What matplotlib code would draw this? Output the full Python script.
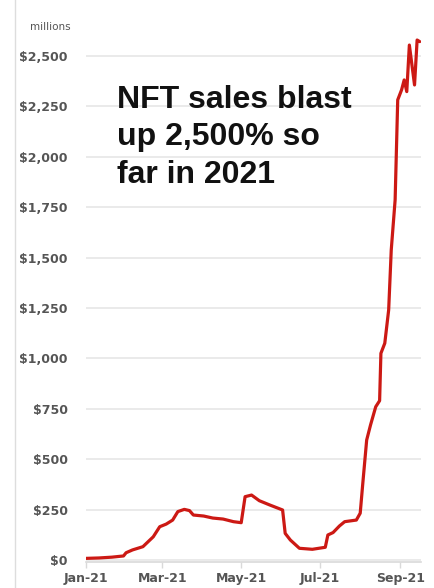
import matplotlib
matplotlib.use("Agg")
import matplotlib.pyplot as plt
import pandas as pd
from matplotlib.lines import Line2D

# ---- data ($ millions) ----
dates = ["2021-01-01", "2021-01-11", "2021-01-21", "2021-01-30", "2021-02-01",
         "2021-02-06", "2021-02-14", "2021-02-22", "2021-02-27", "2021-03-04",
         "2021-03-09", "2021-03-13", "2021-03-18", "2021-03-22", "2021-03-25",
         "2021-04-02", "2021-04-09", "2021-04-17", "2021-04-25", "2021-05-01",
         "2021-05-04", "2021-05-09", "2021-05-15", "2021-05-23", "2021-06-02",
         "2021-06-04", "2021-06-08", "2021-06-15", "2021-06-25", "2021-07-05",
         "2021-07-07", "2021-07-11", "2021-07-16", "2021-07-20", "2021-07-29",
         "2021-08-01", "2021-08-03", "2021-08-06", "2021-08-09", "2021-08-13",
         "2021-08-16", "2021-08-17", "2021-08-20", "2021-08-23", "2021-08-25",
         "2021-08-28", "2021-08-30", "2021-09-02", "2021-09-04", "2021-09-06",
         "2021-09-08", "2021-09-12", "2021-09-14", "2021-09-16"]
sales = [8, 10, 14, 20, 36,
         50, 66, 115, 165, 178,
         198, 240, 251, 245, 223,
         218, 208, 203, 190, 185,
         314, 322, 294, 273, 248,
         132, 99, 58, 53, 63,
         124, 136, 169, 190, 198,
         232, 380, 595, 670, 760,
         790, 1025, 1075, 1240, 1538,
         1786, 2282, 2332, 2381, 2323,
         2554, 2356, 2579, 2571]

y_ticks = [0, 250, 500, 750, 1000, 1250, 1500, 1750, 2000, 2250, 2500]
y_tick_labels = ["$0", "$250", "$500", "$750", "$1,000", "$1,250", "$1,500",
                 "$1,750", "$2,000", "$2,250", "$2,500"]
x_ticks = ["2021-01-01", "2021-03-01", "2021-05-01", "2021-07-01", "2021-09-01"]
x_tick_labels = ["Jan-21", "Mar-21", "May-21", "Jul-21", "Sep-21"]

title_lines = ["NFT sales blast", "up 2,500% so", "far in 2021"]

# ---- figure ----
W, H = 435, 588
fig = plt.figure(figsize=(W / 100, H / 100), dpi=100)
fig.patch.set_facecolor("white")

ax = fig.add_axes([86 / W, 26 / H, (421 - 86) / W, (562 - 25.7) / H])
ax.set_facecolor("white")

x = pd.to_datetime(dates)
ax.plot(x, sales, color="#cc1914", lw=2.3, solid_joinstyle="round",
        solid_capstyle="round", zorder=3)

ax.set_ylim(-10, 2650)
ax.set_xlim(pd.Timestamp("2021-01-01"), pd.Timestamp("2021-09-17"))

ax.set_yticks(y_ticks)
ax.set_yticklabels(y_tick_labels)
ax.set_xticks(pd.to_datetime(x_ticks))
ax.set_xticklabels(x_tick_labels)

ax.yaxis.grid(True, color="#e6e6e6", lw=1.2)
ax.set_axisbelow(True)
for s in ["top", "right", "left"]:
    ax.spines[s].set_visible(False)
ax.spines["bottom"].set_color("#d9d9d9")
ax.spines["bottom"].set_linewidth(1.2)

ax.tick_params(axis="y", length=0, pad=13, labelsize=9, labelcolor="#555555")
ax.tick_params(axis="x", length=4, width=1, color="#d9d9d9", pad=3,
               labelsize=9, labelcolor="#555555")
for lab in ax.get_yticklabels() + ax.get_xticklabels():
    lab.set_fontweight("bold")

fig.text(30 / W, 1 - 27 / H, "millions", fontsize=7.5, color="#555555",
         ha="left", va="center")

baselines = [108, 145.5, 183]
for line, b in zip(title_lines, baselines):
    fig.text(117 / W, 1 - b / H, line, fontsize=23, fontweight="bold",
             family="Liberation Sans", color="#111111", ha="left",
             va="baseline")

fig.add_artist(Line2D([15 / W, 15 / W], [0, 1], color="#dddddd", lw=1,
                      transform=fig.transFigure))

fig.savefig("out.png", dpi=100)
